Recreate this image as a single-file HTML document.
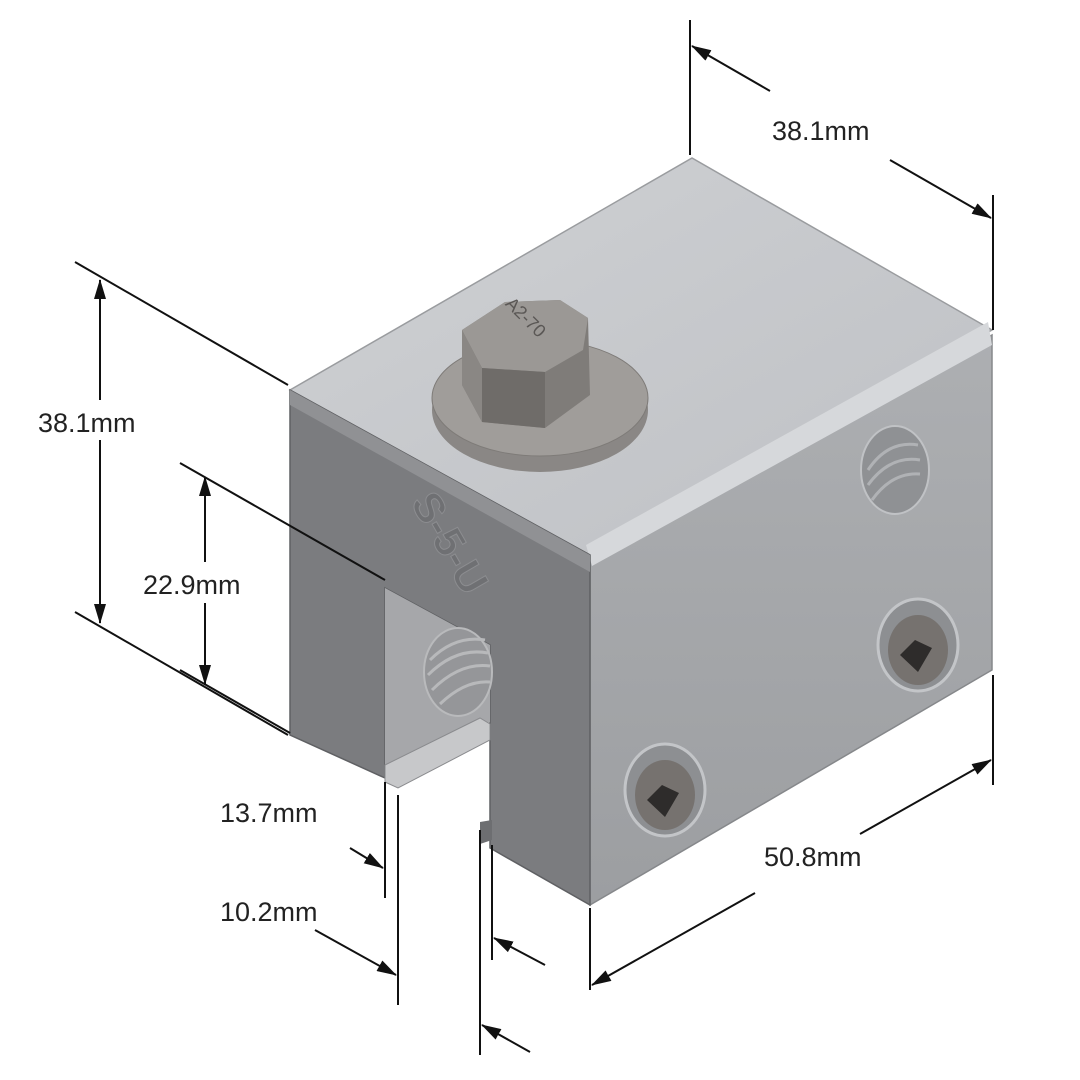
<!DOCTYPE html>
<html><head><style>
html,body{margin:0;padding:0;background:#fff;}
svg{display:block;}
text{font-family:"Liberation Sans",sans-serif;font-size:27px;fill:#222;}
</style></head><body>
<svg width="1080" height="1080" viewBox="0 0 1080 1080" xmlns="http://www.w3.org/2000/svg">
<defs>
<marker id="ar" markerWidth="20" markerHeight="12" refX="19" refY="6" orient="auto" markerUnits="userSpaceOnUse">
<path d="M0,0 L20,6 L0,12 z" fill="#111"/>
</marker>
<linearGradient id="tg" x1="0" y1="0" x2="1" y2="1"><stop offset="0" stop-color="#cfd1d4"/><stop offset="1" stop-color="#bec0c4"/></linearGradient>
<linearGradient id="rg" x1="0" y1="0" x2="0" y2="1"><stop offset="0" stop-color="#adafb2"/><stop offset="1" stop-color="#9c9ea1"/></linearGradient>
</defs>
<polygon points="290,390 692,158 992,330 590,555" fill="url(#tg)" stroke="#9a9c9f" stroke-width="1.5"/>
<polygon points="590,555 992,335 992,670 590,905" fill="url(#rg)" stroke="#86888b" stroke-width="1.5"/>
<polygon points="586,545 988,322 992,345 592,566" fill="#d6d8db"/>
<polygon points="290,390 590,555 590,905 490,848 490,645 385,588 385,778 290,735" fill="#7b7c7f" stroke="#5f6063" stroke-width="1.5"/>
<polygon points="290,390 590,555 590,572 290,405" fill="#909194"/>
<polygon points="385,588 490,645 490,722 385,770" fill="#a6a7aa"/>
<ellipse cx="458" cy="672" rx="34" ry="44" fill="#959699" stroke="#b9babc" stroke-width="2"/>
<path d="M430,660 q25,-25 55,-20 M428,675 q28,-28 60,-22 M432,690 q28,-28 58,-24 M440,704 q25,-24 50,-22" stroke="#b8b9bb" stroke-width="3" fill="none"/>
<polygon points="385,765 480,718 490,724 490,740 398,788 385,782" fill="#c7c8ca" stroke="#8a8b8e"/>
<polygon points="480,822 492,820 492,840 480,844" fill="#6d6e71"/>
<text x="400" y="520" transform="rotate(60 420 520)" style="font-size:42px;font-weight:bold;fill:#6f7073;stroke:#8c8d90;stroke-width:1">S-5-U</text>
<ellipse cx="540" cy="410" rx="108" ry="62" fill="#8a8785"/>
<ellipse cx="540" cy="398" rx="108" ry="58" fill="#a09d9a" stroke="#7e7b78"/>
<polygon points="462,330 505,302 560,300 588,318 590,395 545,428 482,422 462,385" fill="#7f7c79"/>
<polygon points="462,330 505,302 560,300 588,318 583,350 545,372 482,368" fill="#9b9895"/>
<polygon points="482,368 545,372 545,428 482,422" fill="#6f6c69"/>
<polygon points="462,330 482,368 482,422 462,385" fill="#8a8784"/>
<text x="498" y="320" transform="rotate(45 520 320)" style="font-size:18px;fill:#5a5755">A2-70</text>
<ellipse cx="895" cy="470" rx="34" ry="44" fill="#8f9194" stroke="#c0c2c5" stroke-width="2"/>
<path d="M868,470 q20,-30 50,-25 M868,485 q22,-30 52,-25 M872,500 q20,-28 48,-26" stroke="#b0b2b5" stroke-width="3" fill="none"/>
<ellipse cx="918" cy="645" rx="40" ry="46" fill="#8d8f92" stroke="#c3c5c8" stroke-width="3"/>
<ellipse cx="918" cy="650" rx="30" ry="35" fill="#76726f"/>
<polygon points="900,655 915,640 932,648 918,672" fill="#2e2c2b"/>
<ellipse cx="665" cy="790" rx="40" ry="46" fill="#8d8f92" stroke="#c3c5c8" stroke-width="3"/>
<ellipse cx="665" cy="795" rx="30" ry="35" fill="#76726f"/>
<polygon points="647,800 662,785 679,793 665,817" fill="#2e2c2b"/>
<g stroke="#111" stroke-width="2" fill="none">
<line x1="690" y1="20" x2="690" y2="155"/>
<line x1="993" y1="195" x2="993" y2="330"/>
<line x1="770" y1="91" x2="692" y2="46" marker-end="url(#ar)"/>
<line x1="890" y1="160" x2="991" y2="218" marker-end="url(#ar)"/>
<line x1="75" y1="262" x2="288" y2="385"/>
<line x1="75" y1="612" x2="288" y2="735"/>
<line x1="100" y1="400" x2="100" y2="280" marker-end="url(#ar)"/>
<line x1="100" y1="440" x2="100" y2="623" marker-end="url(#ar)"/>
<line x1="180" y1="463" x2="385" y2="580"/>
<line x1="180" y1="670" x2="290" y2="733"/>
<line x1="205" y1="562" x2="205" y2="477" marker-end="url(#ar)"/>
<line x1="205" y1="603" x2="205" y2="684" marker-end="url(#ar)"/>
<line x1="385" y1="782" x2="385" y2="898"/>
<line x1="398" y1="795" x2="398" y2="1005"/>
<line x1="480" y1="830" x2="480" y2="1055"/>
<line x1="492" y1="845" x2="492" y2="960"/>
<line x1="350" y1="848" x2="383" y2="868" marker-end="url(#ar)"/>
<line x1="315" y1="930" x2="396" y2="975" marker-end="url(#ar)"/>
<line x1="545" y1="965" x2="494" y2="938" marker-end="url(#ar)"/>
<line x1="530" y1="1052" x2="482" y2="1025" marker-end="url(#ar)"/>
<line x1="590" y1="908" x2="590" y2="990"/>
<line x1="993" y1="675" x2="993" y2="785"/>
<line x1="755" y1="893" x2="592" y2="985" marker-end="url(#ar)"/>
<line x1="860" y1="834" x2="991" y2="760" marker-end="url(#ar)"/>
</g>
<text x="772" y="140">38.1mm</text>
<text x="38" y="432">38.1mm</text>
<text x="143" y="594">22.9mm</text>
<text x="220" y="822">13.7mm</text>
<text x="220" y="921">10.2mm</text>
<text x="764" y="866">50.8mm</text>
</svg>
</body></html>
